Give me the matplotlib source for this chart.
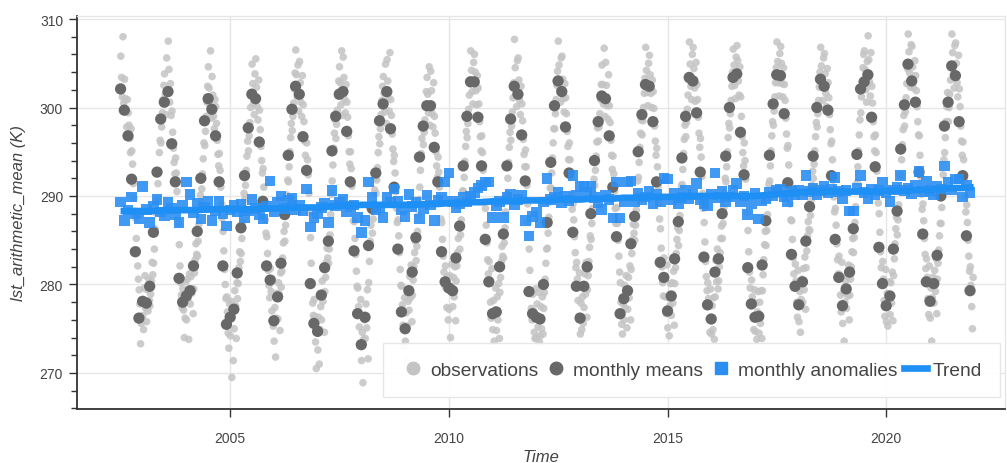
import numpy as np
import pandas as pd
import matplotlib
matplotlib.use("Agg")
import matplotlib.pyplot as plt
import matplotlib.dates as mdates
from matplotlib.lines import Line2D
from matplotlib.ticker import MultipleLocator

plt.rcParams['font.family'] = ['Liberation Sans', 'DejaVu Sans']

# --- data ---
months = pd.date_range('2002-07-01', '2021-12-01', freq='MS')

monthly_means = [
    302.1, 299.7, 296.8, 291.9, 283.7, 276.2,  # 2002 Jul-Dec
    278.1, 277.9, 279.8, 285.9, 292.7, 298.7, 300.6, 301.8, 295.9, 291.6, 280.7, 278.0,
    278.7, 279.3, 282.1, 286.0, 292.0, 298.5, 301.0, 299.8, 296.8, 291.6, 282.1, 275.5,
    276.3, 277.2, 281.3, 286.4, 292.3, 297.7, 301.5, 301.0, 296.1, 289.4, 282.1, 280.5,
    275.9, 278.6, 282.4, 287.9, 294.6, 299.8, 302.4, 301.5, 296.7, 292.9, 280.1, 275.6,
    274.7, 278.8, 281.9, 284.9, 295.1, 299.0, 301.5, 301.8, 297.3, 291.6, 283.8, 276.7,
    273.2, 276.3, 284.4, 288.6, 292.6, 298.5, 300.4, 301.8, 297.6, 291.0, 284.0, 276.9,
    275.0, 279.3, 281.4, 285.3, 294.4, 297.9, 300.2, 300.2, 295.5, 291.6, 283.7, 280.3,
    279.6, 279.3, 283.0, 286.6, 293.4, 299.0, 302.9, 302.9, 298.9, 293.4, 285.1, 280.3,
    276.7, 276.9, 282.0, 285.7, 293.4, 298.7, 302.4, 301.5, 296.9, 291.7, 279.2, 276.7,
    276.3, 276.1, 280.0, 287.0, 293.8, 300.2, 303.0, 301.8, 297.8, 292.6, 285.9, 279.8,
    276.2, 279.8, 282.0, 288.0, 294.0, 298.4, 301.3, 301.0, 296.8, 291.0, 285.4, 276.7,
    278.4, 279.3, 284.6, 287.7, 295.0, 299.2, 302.6, 302.4, 298.4, 291.6, 282.5, 280.8,
    277.0, 278.7, 282.9, 287.1, 294.3, 299.0, 303.4, 303.0, 299.4, 292.7, 283.1, 277.7,
    276.1, 281.4, 282.9, 288.0, 294.5, 300.0, 303.4, 303.8, 297.2, 292.4, 281.9, 277.8,
    276.3, 276.4, 282.2, 287.2, 294.6, 300.4, 303.7, 303.6, 299.3, 291.5, 283.4, 279.8,
    277.7, 280.3, 284.9, 288.8, 294.5, 300.0, 303.2, 302.4, 299.7, 292.3, 285.1, 280.8,
    277.6, 279.5, 281.4, 286.3, 294.7, 302.1, 302.9, 303.7, 298.9, 293.3, 284.2, 280.1,
    277.6, 278.7, 284.0, 288.3, 295.3, 300.3, 304.9, 303.0, 300.6, 292.7, 285.7, 280.3,
    278.1, 280.1, 283.3, 290.0, 297.9, 300.6, 304.7, 303.6, 298.4, 292.3, 285.5, 279.3,
]

monthly_anomalies = [
    289.3, 287.2, 288.4, 289.9, 288.0, 287.4,  # 2002 Jul-Dec
    291.1, 288.5, 287.0, 288.8, 289.6, 288.2, 287.8, 289.3, 288.6, 287.9, 287.0, 288.9,
    291.6, 290.2, 288.1, 289.2, 287.4, 288.7, 289.4, 287.2, 288.3, 289.4, 288.0, 286.6,
    288.4, 289.0, 288.2, 289.1, 287.6, 288.3, 289.6, 288.6, 287.9, 287.4, 288.8, 291.7,
    288.2, 289.3, 290.0, 288.6, 289.5, 289.7, 288.4, 289.0, 288.3, 290.8, 286.5, 287.6,
    288.0, 288.7, 289.2, 287.0, 290.6, 288.9, 289.3, 289.6, 288.2, 288.8, 289.0, 287.6,
    285.9, 287.2, 291.6, 289.9, 288.4, 288.7, 287.6, 289.8, 289.3, 290.8, 289.4, 288.4,
    287.7, 290.2, 288.8, 289.3, 287.4, 288.6, 290.1, 289.0, 287.2, 289.5, 289.8, 291.6,
    292.6, 289.4, 288.7, 289.1, 289.8, 289.3, 290.0, 290.4, 290.9, 291.2, 291.6, 291.6,
    287.6, 288.9, 289.4, 287.6, 289.8, 290.2, 289.0, 289.6, 290.1, 287.2, 285.5, 287.7,
    288.2, 287.0, 289.3, 292.0, 289.6, 289.9, 290.4, 289.2, 290.0, 289.5, 292.3, 290.1,
    291.1, 291.1, 290.4, 291.1, 289.8, 289.2, 288.5, 290.1, 289.6, 287.5, 291.6, 287.5,
    289.3, 291.6, 291.7, 289.4, 290.3, 289.6, 289.9, 290.5, 289.1, 290.2, 289.4, 292.0,
    291.9, 289.6, 290.3, 289.1, 289.8, 290.6, 289.7, 290.2, 291.4, 289.6, 289.1, 288.9,
    290.2, 292.6, 289.8, 290.5, 289.4, 289.9, 290.7, 291.4, 289.3, 290.0, 287.9, 289.1,
    290.3, 287.4, 289.5, 289.7, 290.4, 290.0, 290.6, 290.8, 289.9, 289.3, 290.5, 290.2,
    290.7, 290.1, 292.3, 290.5, 290.9, 290.2, 290.6, 291.1, 290.4, 290.8, 292.1, 290.5,
    289.7, 290.6, 288.3, 288.3, 290.9, 292.3, 290.4, 289.7, 290.8, 290.2, 290.6, 291.6,
    290.4, 289.4, 290.7, 291.0, 292.3, 290.6, 290.9, 290.3, 291.2, 292.8, 290.5, 291.7,
    290.6, 290.2, 291.1, 290.8, 293.4, 291.5, 290.7, 291.9, 291.9, 289.9, 291.2, 290.4,
]

trend_dates = pd.date_range('2002-07-01', periods=79, freq='3MS')
trend = [
    288.3, 288.3,
    288.3, 288.3, 288.4, 288.4,
    288.4, 288.4, 288.5, 288.5,
    288.5, 288.5, 288.5, 288.6,
    288.6, 288.6, 288.7, 288.7,
    288.7, 288.8, 288.9, 288.9,
    289.0, 289.0, 289.0, 289.0,
    289.0, 289.0, 289.1, 289.1,
    289.2, 289.2, 289.3, 289.3,
    289.4, 289.4, 289.4, 289.5,
    289.5, 289.5, 289.6, 289.6,
    289.6, 289.7, 289.7, 289.7,
    289.8, 289.8, 289.9, 289.9,
    289.9, 289.9, 290.0, 290.0,
    290.0, 290.0, 290.0, 290.0,
    290.0, 290.1, 290.2, 290.3,
    290.4, 290.5, 290.5, 290.5,
    290.5, 290.5, 290.5, 290.5,
    290.6, 290.6, 290.6, 290.7,
    290.7, 290.8, 290.9, 290.9,
    291.0,
]

# five observations per month, taken on these days of the month
obs_days = [3, 9, 15, 21, 27]
observations = [
    # 2002 Jul-Dec
    305.8, 303.4, 301.2, 308.0, 300.5, 303.2, 301.0, 299.5, 297.8, 300.9,
    299.4, 298.0, 296.5, 294.9, 297.6, 295.1, 293.6, 291.4, 289.8, 288.3,
    287.5, 285.2, 283.9, 282.1, 280.6, 279.4, 277.8, 273.3, 275.6, 278.1,
    # 2003
    276.5, 274.9, 279.6, 281.0, 277.3, 275.8, 279.4, 277.0, 280.6, 278.2,
    277.6, 278.9, 280.4, 282.5, 281.1, 282.4, 284.0, 286.3, 288.1, 289.5,
    289.6, 291.4, 292.8, 294.9, 296.3, 296.0, 297.8, 299.4, 300.9, 302.5,
    303.8, 301.5, 299.2, 305.6, 302.0, 307.5, 304.3, 300.6, 302.7, 299.1,
    299.6, 297.2, 295.4, 293.8, 292.5, 294.3, 292.6, 290.5, 288.4, 286.9,
    284.5, 282.1, 280.2, 278.8, 277.4, 279.5, 277.1, 274.0, 276.2, 280.3,
    # 2004
    276.0, 280.6, 278.3, 273.8, 281.2, 277.8, 280.9, 279.0, 282.3, 276.7,
    279.5, 281.3, 282.8, 284.6, 283.4, 283.2, 284.9, 286.8, 288.7, 290.1,
    289.3, 290.8, 292.5, 294.2, 296.0, 295.7, 297.3, 299.0, 300.6, 302.4,
    304.6, 302.2, 300.3, 306.4, 298.8, 303.5, 301.4, 299.0, 297.6, 300.9,
    300.1, 298.2, 296.3, 294.7, 293.4, 294.8, 292.9, 291.0, 289.1, 287.5,
    286.0, 283.8, 281.7, 280.0, 278.4, 278.6, 276.9, 274.5, 272.8, 277.8,
    # 2005
    274.2, 278.1, 269.5, 276.8, 271.4, 275.0, 279.3, 277.6, 273.9, 280.2,
    278.4, 280.1, 281.9, 283.7, 282.6, 283.5, 285.2, 287.0, 288.8, 290.3,
    289.6, 291.2, 292.9, 294.5, 296.2, 295.1, 296.8, 298.3, 300.0, 301.7,
    304.9, 302.7, 300.4, 299.2, 303.8, 305.5, 302.3, 300.1, 298.6, 303.1,
    299.7, 297.5, 295.6, 294.0, 292.6, 293.1, 291.0, 289.2, 287.3, 285.8,
    285.4, 283.5, 281.6, 279.9, 278.5, 281.8, 279.2, 277.0, 280.6, 275.3,
    # 2006
    273.6, 277.4, 271.8, 276.2, 279.0, 276.1, 280.2, 278.9, 274.8, 281.3,
    279.7, 281.5, 283.0, 284.7, 286.0, 284.9, 286.7, 288.4, 290.1, 291.8,
    291.6, 293.3, 295.0, 296.6, 298.2, 297.4, 299.0, 300.5, 302.1, 303.9,
    306.5, 303.7, 301.2, 304.8, 299.6, 305.2, 302.8, 300.6, 299.0, 303.6,
    300.3, 298.4, 296.2, 294.6, 292.9, 296.0, 294.1, 292.4, 290.3, 288.1,
    285.3, 282.4, 280.0, 277.9, 276.5, 278.3, 276.4, 273.5, 270.5, 275.0,
    # 2007
    272.6, 276.3, 271.0, 274.9, 277.5, 276.0, 280.4, 278.1, 282.0, 274.6,
    279.2, 280.8, 282.5, 284.1, 283.0, 282.4, 284.0, 285.6, 287.9, 290.2,
    291.7, 293.5, 295.4, 297.1, 298.6, 296.5, 298.1, 299.7, 301.3, 303.0,
    304.6, 302.8, 300.3, 306.4, 299.1, 305.7, 303.4, 300.9, 299.4, 302.6,
    300.6, 298.9, 296.8, 295.0, 293.6, 295.0, 293.1, 291.1, 289.0, 287.2,
    287.1, 285.2, 283.4, 281.5, 279.8, 279.6, 277.5, 275.2, 273.1, 278.3,
    # 2008
    271.4, 274.6, 268.9, 273.8, 276.0, 273.9, 277.8, 275.1, 279.4, 271.6,
    280.2, 282.6, 284.9, 286.7, 288.3, 285.8, 287.4, 289.1, 290.7, 292.0,
    290.3, 291.8, 293.2, 294.9, 296.7, 295.9, 297.6, 299.2, 300.8, 302.4,
    303.5, 301.6, 299.5, 304.9, 298.2, 305.4, 303.0, 301.1, 299.6, 306.2,
    300.9, 299.1, 297.0, 295.3, 293.9, 294.6, 292.6, 290.5, 288.6, 287.0,
    287.3, 285.5, 283.6, 281.7, 279.9, 279.8, 277.7, 275.4, 273.0, 278.5,
    # 2009
    273.6, 276.8, 271.2, 275.3, 278.1, 277.1, 280.9, 278.5, 282.2, 275.8,
    278.8, 280.5, 282.0, 283.6, 284.9, 282.7, 284.3, 286.0, 287.8, 289.6,
    291.0, 292.9, 294.8, 296.5, 298.0, 295.8, 297.2, 298.6, 300.2, 301.8,
    303.4, 301.5, 299.4, 304.6, 298.0, 304.1, 301.9, 299.3, 297.8, 302.8,
    299.0, 297.1, 295.0, 293.4, 292.1, 294.4, 292.7, 291.0, 289.2, 287.4,
    287.0, 285.1, 283.2, 281.4, 279.9, 282.1, 279.6, 277.4, 280.9, 276.0,
    # 2010
    277.2, 281.0, 274.0, 279.8, 282.3, 277.5, 280.8, 278.6, 282.0, 275.9,
    280.4, 282.1, 283.6, 285.2, 286.5, 284.0, 285.6, 287.3, 289.0, 290.6,
    290.5, 292.1, 293.9, 295.6, 297.3, 296.6, 298.2, 299.8, 301.4, 303.1,
    306.4, 304.2, 301.8, 300.4, 305.1, 306.0, 304.0, 301.9, 300.3, 303.6,
    302.2, 300.4, 298.4, 296.7, 295.1, 296.8, 294.9, 292.9, 291.0, 289.3,
    288.6, 286.7, 284.7, 282.8, 281.2, 282.6, 280.5, 278.0, 276.2, 281.8,
    # 2011
    274.9, 278.2, 273.6, 277.1, 279.6, 274.8, 278.6, 276.0, 280.1, 273.9,
    279.1, 280.8, 282.6, 284.3, 283.2, 283.0, 284.7, 286.4, 288.2, 290.0,
    290.2, 292.0, 293.8, 295.5, 297.2, 296.3, 297.9, 299.5, 301.1, 302.8,
    307.7, 304.5, 301.6, 300.1, 305.3, 305.6, 303.1, 300.8, 299.2, 302.4,
    300.4, 298.5, 296.4, 294.7, 293.3, 295.2, 293.3, 291.2, 289.1, 287.0,
    284.0, 281.6, 279.0, 277.3, 276.0, 278.9, 277.0, 274.6, 273.9, 279.5,
    # 2012
    274.0, 277.8, 275.2, 279.1, 273.5, 274.2, 277.5, 275.0, 278.6, 274.4,
    277.3, 279.1, 280.6, 282.4, 284.0, 284.1, 285.8, 287.6, 289.3, 290.9,
    290.9, 292.6, 294.3, 296.0, 297.6, 297.6, 299.3, 300.9, 302.5, 304.1,
    307.5, 304.8, 302.1, 300.6, 305.6, 305.8, 303.2, 301.0, 299.5, 302.7,
    301.1, 299.3, 297.3, 295.6, 294.1, 296.0, 294.1, 292.1, 290.2, 288.5,
    289.1, 287.3, 285.4, 283.6, 281.9, 282.5, 280.6, 278.2, 276.4, 281.3,
    # 2013
    274.4, 277.9, 274.9, 278.6, 275.6, 277.4, 281.2, 278.9, 282.5, 276.3,
    279.4, 281.0, 282.6, 284.2, 285.5, 285.1, 286.9, 288.6, 290.3, 291.9,
    291.2, 292.9, 294.5, 296.1, 297.7, 296.2, 297.8, 299.3, 300.9, 302.6,
    304.8, 302.6, 300.4, 306.7, 299.0, 305.1, 302.5, 300.2, 298.7, 303.7,
    300.2, 298.3, 296.3, 294.6, 293.0, 294.5, 292.5, 290.5, 288.6, 286.9,
    288.7, 286.9, 285.0, 283.2, 281.4, 280.2, 278.0, 275.5, 274.4, 277.8,
    # 2014
    276.0, 279.9, 277.3, 281.0, 275.1, 277.2, 280.8, 278.5, 282.1, 276.0,
    281.7, 283.5, 285.1, 286.8, 285.8, 285.0, 286.7, 288.4, 290.1, 291.7,
    292.1, 293.8, 295.5, 297.1, 298.6, 296.9, 298.5, 300.0, 301.6, 303.3,
    306.8, 304.2, 301.7, 300.2, 305.0, 305.9, 303.7, 301.6, 300.0, 303.1,
    301.8, 299.9, 297.9, 296.2, 294.6, 295.4, 293.3, 291.1, 289.2, 287.4,
    286.3, 284.1, 282.0, 280.2, 278.7, 283.0, 280.9, 278.6, 276.7, 282.2,
    # 2015
    275.1, 278.5, 274.2, 277.6, 280.1, 276.5, 280.2, 277.9, 281.5, 275.4,
    280.1, 281.9, 283.5, 285.1, 286.4, 284.4, 286.1, 287.8, 289.5, 291.1,
    291.3, 293.0, 294.8, 296.4, 298.0, 296.7, 298.3, 299.8, 301.4, 303.1,
    307.4, 304.9, 302.4, 300.9, 306.0, 306.8, 304.4, 302.2, 300.7, 305.1,
    302.6, 300.9, 298.9, 297.1, 295.5, 296.5, 294.4, 292.2, 290.3, 288.6,
    287.0, 284.8, 282.6, 280.9, 279.3, 280.2, 278.4, 276.1, 274.6, 279.5,
    # 2016
    274.4, 277.6, 274.9, 278.5, 273.8, 278.6, 282.7, 280.3, 284.0, 279.5,
    280.4, 282.0, 283.6, 285.2, 286.6, 285.2, 286.9, 288.7, 290.4, 292.0,
    291.6, 293.3, 295.0, 296.6, 298.2, 297.7, 299.3, 300.8, 302.4, 304.0,
    306.6, 304.8, 302.5, 301.0, 305.7, 307.0, 305.3, 303.0, 301.4, 304.6,
    301.2, 299.0, 296.7, 294.9, 293.4, 296.0, 294.0, 291.9, 289.9, 288.1,
    286.1, 283.7, 281.4, 279.6, 278.0, 280.5, 278.6, 276.3, 274.9, 279.4,
    # 2017
    274.7, 277.9, 273.8, 276.9, 279.2, 274.5, 278.0, 275.6, 279.3, 273.9,
    279.3, 281.1, 282.8, 284.5, 286.0, 284.4, 286.1, 287.9, 289.6, 291.3,
    291.7, 293.4, 295.1, 296.8, 298.4, 298.0, 299.6, 301.2, 302.8, 304.5,
    307.4, 305.2, 302.8, 301.3, 306.1, 306.9, 305.0, 302.7, 301.2, 304.5,
    302.6, 300.8, 298.8, 297.0, 295.4, 295.7, 293.5, 291.0, 289.1, 287.3,
    287.2, 285.1, 283.0, 281.2, 279.6, 282.3, 280.4, 278.0, 276.3, 281.6,
    # 2018
    275.8, 279.2, 274.6, 278.3, 280.6, 278.0, 281.8, 279.4, 283.1, 277.2,
    281.9, 283.8, 285.5, 287.1, 286.2, 286.1, 287.8, 289.5, 291.2, 292.8,
    292.0, 293.6, 295.1, 296.7, 298.3, 297.8, 299.3, 300.8, 302.3, 304.0,
    306.8, 304.7, 302.3, 300.8, 305.6, 306.1, 303.8, 301.6, 300.1, 304.4,
    302.8, 301.1, 299.2, 297.5, 295.9, 296.2, 294.1, 291.8, 289.9, 288.2,
    288.6, 286.7, 284.6, 282.8, 281.2, 283.2, 281.1, 278.8, 276.9, 282.5,
    # 2019
    275.6, 279.1, 273.6, 278.0, 280.4, 277.3, 281.0, 278.7, 282.2, 276.0,
    278.8, 280.6, 282.0, 283.7, 285.2, 283.6, 285.3, 287.0, 288.8, 290.5,
    291.5, 293.3, 295.1, 296.9, 298.6, 299.4, 301.2, 302.9, 304.5, 306.0,
    306.4, 304.3, 302.0, 300.6, 305.2, 308.1, 305.4, 302.9, 301.3, 306.2,
    302.4, 300.5, 298.4, 296.7, 295.1, 296.9, 294.9, 292.8, 290.9, 289.2,
    288.0, 285.9, 283.7, 281.9, 280.3, 282.6, 280.6, 278.2, 276.4, 281.7,
    # 2020
    275.8, 279.0, 275.3, 278.2, 280.3, 276.6, 280.2, 277.9, 281.4, 275.9,
    281.0, 282.9, 284.6, 286.3, 287.6, 285.6, 287.3, 289.0, 290.7, 292.4,
    292.3, 294.1, 295.8, 297.5, 299.1, 297.9, 299.5, 301.1, 302.7, 304.4,
    308.3, 306.3, 303.9, 302.3, 307.1, 306.9, 304.6, 302.2, 300.7, 305.3,
    303.6, 301.9, 300.1, 298.4, 296.9, 296.8, 294.6, 292.2, 290.2, 288.5,
    289.1, 287.2, 285.2, 283.4, 281.8, 282.9, 280.8, 278.4, 276.6, 282.1,
    # 2021
    276.2, 279.6, 273.6, 278.5, 280.8, 277.9, 281.6, 279.2, 282.9, 276.7,
    280.6, 282.4, 283.9, 285.5, 286.9, 286.9, 288.7, 290.6, 292.4, 294.1,
    294.9, 296.6, 298.4, 300.1, 301.7, 298.4, 300.0, 301.5, 303.1, 304.8,
    308.3, 306.2, 303.8, 302.2, 307.0, 307.3, 305.0, 302.8, 301.2, 305.9,
    302.1, 300.1, 297.9, 296.2, 294.6, 296.1, 294.1, 291.8, 289.9, 288.2,
    289.0, 287.0, 285.0, 283.2, 281.5, 282.0, 279.9, 277.5, 275.0, 280.8,
]

labels = ['observations', 'monthly means', 'monthly anomalies', 'Trend']

# --- colours ---
OBS_C = '#c4c4c4'
MEAN_C = '#686868'
ANOM_C = '#2b8ff2'
TREND_C = '#1e8ff5'
TXT_C = '#444444'

obs_offsets = pd.to_timedelta(np.array(obs_days) - 1, unit='D').values
obs_times = np.repeat(months.values, len(obs_days)) + np.tile(obs_offsets, len(months))

fig = plt.figure(figsize=(10.07, 4.64), dpi=100)
ax = fig.add_axes([77 / 1007, 1 - 410 / 464, 928 / 1007, 393 / 464])

ax.scatter(obs_times, observations, s=30, color=OBS_C, alpha=0.85,
           edgecolors='none', zorder=2)
ax.scatter(months, monthly_means, s=66, color=MEAN_C, edgecolors='none', zorder=3)
ax.scatter(months, monthly_anomalies, s=58, marker='s', color=ANOM_C, alpha=0.9,
           edgecolors='none', zorder=4)
ax.plot(trend_dates, trend, color=TREND_C, lw=4.8, zorder=5, solid_capstyle='butt')

ax.set_xlim(pd.Timestamp('2001-07-02'), pd.Timestamp('2022-09-19'))
ax.set_ylim(265.93, 310.34)

ax.xaxis.set_major_locator(mdates.YearLocator(5))
ax.xaxis.set_major_formatter(mdates.DateFormatter('%Y'))
ax.yaxis.set_major_locator(MultipleLocator(10))
ax.yaxis.set_minor_locator(MultipleLocator(2))

ax.tick_params(axis='both', which='major', direction='out', length=6, width=1,
               color='#333333', labelcolor=TXT_C, labelsize=10)
ax.tick_params(axis='y', which='major', pad=4)
ax.tick_params(axis='x', which='major', pad=10)
ax.tick_params(axis='y', which='minor', direction='out', length=4, width=1,
               color='#333333')

ax.grid(True, which='major', color='#e6e6e6', lw=1)
ax.set_axisbelow(True)

for side in ('left', 'bottom'):
    ax.spines[side].set_color('#333333')
    ax.spines[side].set_linewidth(1.3)
for side in ('top', 'right'):
    ax.spines[side].set_color('#e6e6e6')
    ax.spines[side].set_linewidth(1)

ax.set_ylabel('lst_arithmetic_mean (K)', fontsize=12, style='italic',
              color=TXT_C, labelpad=10)
ax.set_xlabel('Time', fontsize=12, style='italic', color=TXT_C, labelpad=3)

handles = [
    Line2D([], [], ls='none', marker='o', ms=9, color=OBS_C),
    Line2D([], [], ls='none', marker='o', ms=9, color=MEAN_C),
    Line2D([], [], ls='none', marker='s', ms=9, color=ANOM_C),
    Line2D([], [], color=TREND_C, lw=4.8),
]
leg = ax.legend(handles, labels, ncol=4, loc='lower right',
                bbox_to_anchor=(0.9946, 0.03), borderaxespad=0, fontsize=13.8,
                frameon=True, fancybox=False, edgecolor='#e6e6e6',
                framealpha=0.95, handlelength=1.2, handletextpad=0.3,
                columnspacing=0.32, borderpad=0.95, labelcolor=TXT_C)
leg.set_zorder(10)

fig.savefig('out.png', dpi=100, facecolor='white')
